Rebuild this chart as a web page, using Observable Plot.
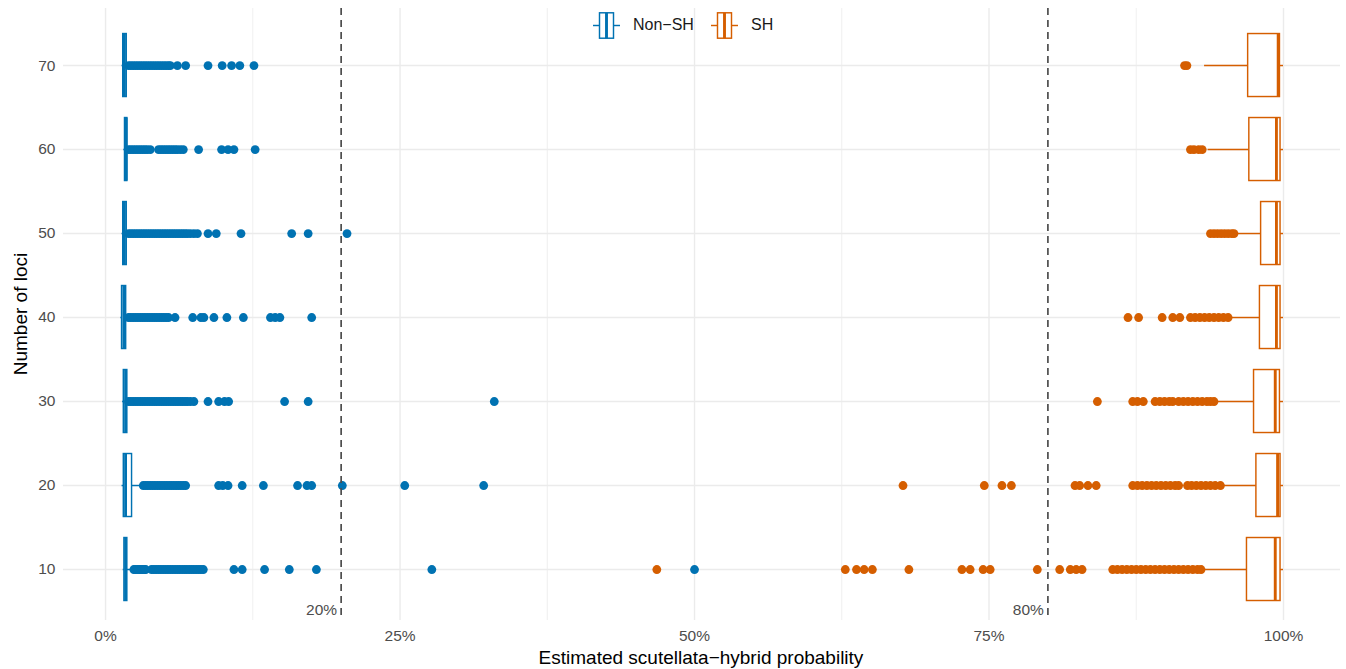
<!DOCTYPE html>
<html>
<head>
<meta charset="utf-8">
<script src="https://cdn.jsdelivr.net/npm/d3@7"></script>
<script src="https://cdn.jsdelivr.net/npm/@observablehq/plot@0.6"></script>
<style>
  body { margin: 0; background: #fff; font-family: "Liberation Sans", Arial, sans-serif; }
  #wrap { position: relative; width: 1346px; height: 669px; overflow: hidden; }
  #chart { position: absolute; left: 0; top: 0; }
  .lg { position: absolute; font-size: 16px; color: #1a1a1a; line-height: 1; }
  .xtitle { position: absolute; left: 0; width: 1402px; top: 647px; text-align: center; font-size: 19px; color: #000; }
  .ytitle { position: absolute; left: 21px; top: 314px; transform: translate(-50%, -50%) rotate(-90deg); font-size: 19px; color: #000; white-space: nowrap; }
</style>
</head>
<body>
<div id="wrap">
  <div id="chart"></div>
  <div id="legend"></div>
  <div class="xtitle">Estimated scutellata−hybrid probability</div>
  <div class="ytitle">Number of loci</div>
</div>
<script>
// ---------- data (percent) ----------
const loci = [10, 20, 30, 40, 50, 60, 70];
const groups = ["Non−SH", "SH"];
const groupColors = ["#0072B2", "#D55E00"];
const xTicks = [0, 25, 50, 75, 100];
const xMinor = [12.5, 37.5, 62.5, 87.5];
const thresholds = [20, 80];

// Non-SH box statistics per row (10..70)
const nsQ1  = [1.6, 1.55, 1.55, 1.4, 1.5, 1.65, 1.5];
const nsMed = [1.7, 1.7, 1.7, 1.55, 1.6, 1.75, 1.6];
const nsQ3  = [1.85, 2.25, 1.85, 1.75, 1.8, 1.85, 1.8];
const nsLo  = [1.5, 1.4, 1.45, 1.3, 1.4, 1.55, 1.4];
const nsHi  = [2.2, 3.1, 1.9, 1.9, 1.9, 1.9, 1.9];

// SH box statistics per row (10..70)
const shQ1  = [96.9, 97.7, 97.5, 98.0, 98.1, 97.1, 97.0];
const shMed = [99.3, 99.5, 99.3, 99.4, 99.4, 99.4, 99.55];
const shQ3  = [99.75, 99.75, 99.7, 99.75, 99.75, 99.75, 99.7];
const shLo  = [93.1, 94.7, 94.2, 95.5, 96.1, 93.6, 93.3];
const shHi  = [100, 100, 100, 100, 100, 100, 100];

// Non-SH outliers per row
const nsOut10 = [2.4, 2.55, 2.7, 2.85, 3.0, 3.15, 3.3, 3.4, 3.9, 4.1, 4.3, 4.5, 4.7, 4.9, 5.1, 5.3, 5.5, 5.7, 5.9, 6.1, 6.3, 6.5, 6.7, 6.9, 7.1, 7.3, 7.5, 7.7, 7.9, 8.1, 8.3, 10.9, 11.6, 13.5, 15.6, 17.9, 27.7, 50.0];
const nsOut20 = [3.2, 3.4, 3.6, 3.8, 4.0, 4.2, 4.4, 4.6, 4.8, 5.0, 5.2, 5.4, 5.6, 5.8, 6.0, 6.2, 6.4, 6.6, 6.8, 9.6, 9.95, 10.4, 11.6, 13.4, 16.3, 17.1, 17.5, 20.1, 25.4, 32.1];
const nsOut30 = [1.95, 2.15, 2.35, 2.55, 2.75, 2.95, 3.15, 3.35, 3.55, 3.75, 3.95, 4.15, 4.35, 4.55, 4.75, 4.95, 5.15, 5.35, 5.55, 5.75, 5.95, 6.15, 6.35, 6.55, 6.75, 6.95, 7.2, 7.5, 8.7, 9.6, 10.1, 10.45, 15.2, 17.2, 33.0];
const nsOut40 = [1.95, 2.15, 2.35, 2.55, 2.75, 2.95, 3.15, 3.35, 3.55, 3.75, 3.95, 4.15, 4.35, 4.55, 4.75, 4.95, 5.15, 5.35, 5.9, 7.4, 8.1, 8.35, 9.2, 10.3, 11.7, 14.0, 14.4, 14.8, 17.5];
const nsOut50 = [1.95, 2.15, 2.35, 2.55, 2.75, 2.95, 3.15, 3.35, 3.55, 3.75, 3.95, 4.15, 4.35, 4.55, 4.75, 4.95, 5.15, 5.35, 5.55, 5.75, 5.95, 6.15, 6.35, 6.55, 6.75, 6.95, 7.2, 7.5, 7.8, 8.7, 9.4, 11.5, 15.8, 17.2, 20.5];
const nsOut60 = [1.95, 2.15, 2.35, 2.55, 2.75, 2.95, 3.15, 3.35, 3.55, 3.8, 4.5, 4.7, 4.9, 5.1, 5.3, 5.5, 5.7, 5.9, 6.1, 6.35, 6.6, 7.9, 9.85, 10.4, 10.9, 12.7];
const nsOut70 = [1.95, 2.15, 2.35, 2.55, 2.75, 2.95, 3.15, 3.35, 3.55, 3.75, 3.95, 4.15, 4.35, 4.55, 4.75, 4.95, 5.15, 5.35, 5.5, 6.1, 6.8, 8.7, 9.9, 10.7, 11.4, 12.6];

// SH outliers per row
const shOut10 = [46.8, 62.8, 63.75, 64.4, 65.1, 68.2, 72.7, 73.4, 74.5, 75.1, 79.1, 81.0, 81.9, 82.4, 82.9, 85.5, 85.9, 86.3, 86.7, 87.1, 87.5, 87.9, 88.3, 88.7, 89.1, 89.5, 89.9, 90.3, 90.7, 91.1, 91.5, 91.9, 92.3, 92.7, 93.0];
const shOut20 = [67.7, 74.6, 76.1, 76.9, 82.3, 82.7, 83.4, 84.1, 87.2, 87.6, 88.0, 88.4, 88.8, 89.2, 89.6, 90.0, 90.4, 90.8, 91.1, 91.85, 92.2, 92.6, 93.0, 93.4, 93.8, 94.2, 94.65];
const shOut30 = [84.2, 87.2, 87.6, 88.1, 89.1, 89.5, 89.9, 90.3, 90.6, 91.1, 91.5, 91.9, 92.3, 92.7, 93.1, 93.5, 93.8, 94.1];
const shOut40 = [86.8, 87.7, 89.7, 90.6, 91.2, 92.1, 92.5, 92.9, 93.3, 93.7, 94.1, 94.5, 94.9, 95.3];
const shOut50 = [93.8, 94.1, 94.4, 94.7, 95.0, 95.3, 95.6, 95.8];
const shOut60 = [92.1, 92.4, 92.8, 93.1];
const shOut70 = [91.6, 91.8];

const nsOut = [nsOut10, nsOut20, nsOut30, nsOut40, nsOut50, nsOut60, nsOut70];
const shOut = [shOut10, shOut20, shOut30, shOut40, shOut50, shOut60, shOut70];

// ---------- tables for the library ----------
const boxes = loci.flatMap((l, i) => [
  {y: l, group: groups[0], q1: nsQ1[i], med: nsMed[i], q3: nsQ3[i], lo: nsLo[i], hi: nsHi[i]},
  {y: l, group: groups[1], q1: shQ1[i], med: shMed[i], q3: shQ3[i], lo: shLo[i], hi: shHi[i]}
]);
const outliers = loci.flatMap((l, i) => [
  ...nsOut[i].map(v => ({x: v, y: l, group: groups[0]})),
  ...shOut[i].map(v => ({x: v, y: l, group: groups[1]}))
]);

const HALF = 3.75; // half box height in y units
const grid = "#ebebeb";
const LW = 1.45;

const plot = Plot.plot({
  width: 1346,
  height: 669,
  marginLeft: 63,
  marginRight: 6,
  marginTop: 8,
  marginBottom: 49,
  x: {domain: [-3.57, 104.84]},
  y: {domain: [3.93, 76.79]},
  color: {domain: groups, range: groupColors},
  style: {fontFamily: "Liberation Sans, Arial, sans-serif", background: "transparent"},
  marks: [
    Plot.gridX(xMinor, {stroke: grid, strokeOpacity: 1, strokeWidth: 0.8}),
    Plot.gridX(xTicks, {stroke: grid, strokeOpacity: 1, strokeWidth: 1.4}),
    Plot.gridY(loci, {stroke: grid, strokeOpacity: 1, strokeWidth: 1.4}),
    Plot.axisX(xTicks, {tickSize: 0, tickPadding: 9, fontSize: 15.5, fill: "#4d4d4d", tickFormat: d => d + "%", label: null}),
    Plot.axisY(loci, {tickSize: 0, tickPadding: 8, fontSize: 15.5, fill: "#4d4d4d", label: null}),
    Plot.ruleY(boxes, {y: "y", x1: "lo", x2: "q1", stroke: "group", strokeWidth: LW}),
    Plot.ruleY(boxes, {y: "y", x1: "q3", x2: "hi", stroke: "group", strokeWidth: LW}),
    Plot.rect(boxes, {x1: "q1", x2: "q3", y1: d => d.y - HALF, y2: d => d.y + HALF, fill: "white", stroke: "group", strokeWidth: LW}),
    Plot.ruleX(boxes, {x: "med", y1: d => d.y - HALF, y2: d => d.y + HALF, stroke: "group", strokeWidth: 2.9}),
    Plot.dot(outliers, {x: "x", y: "y", fill: "group", r: 4.4}),
    Plot.ruleX(thresholds, {stroke: "#4d4d4d", strokeWidth: 1.7, strokeDasharray: "7,5"}),
    Plot.text(thresholds, {x: d => d, text: d => d + "%", frameAnchor: "bottom", lineAnchor: "bottom", textAnchor: "end", dx: -4, dy: -6, fontSize: 15.5, fill: "#4d4d4d"})
  ]
});
document.getElementById("chart").appendChild(plot);

// ---------- legend ----------
const legend = document.getElementById("legend");
const legendPos = [{gx: 593, tx: 633}, {gx: 711, tx: 751}];
groups.forEach((g, i) => {
  const c = groupColors[i];
  const glyph = document.createElement("div");
  glyph.className = "lg";
  glyph.style.left = legendPos[i].gx + "px";
  glyph.style.top = "12px";
  glyph.innerHTML = `<svg width="27" height="27"><line x1="0" x2="27" y1="13.5" y2="13.5" stroke="${c}" stroke-width="1.45"/><rect x="6.5" y="0.8" width="14" height="25.4" fill="white" stroke="${c}" stroke-width="1.45"/><line x1="13.5" x2="13.5" y1="0.8" y2="26.2" stroke="${c}" stroke-width="2.9"/></svg>`;
  legend.appendChild(glyph);
  const t = document.createElement("div");
  t.className = "lg";
  t.style.left = legendPos[i].tx + "px";
  t.style.top = "17px";
  t.textContent = g;
  legend.appendChild(t);
});
</script>
</body>
</html>
